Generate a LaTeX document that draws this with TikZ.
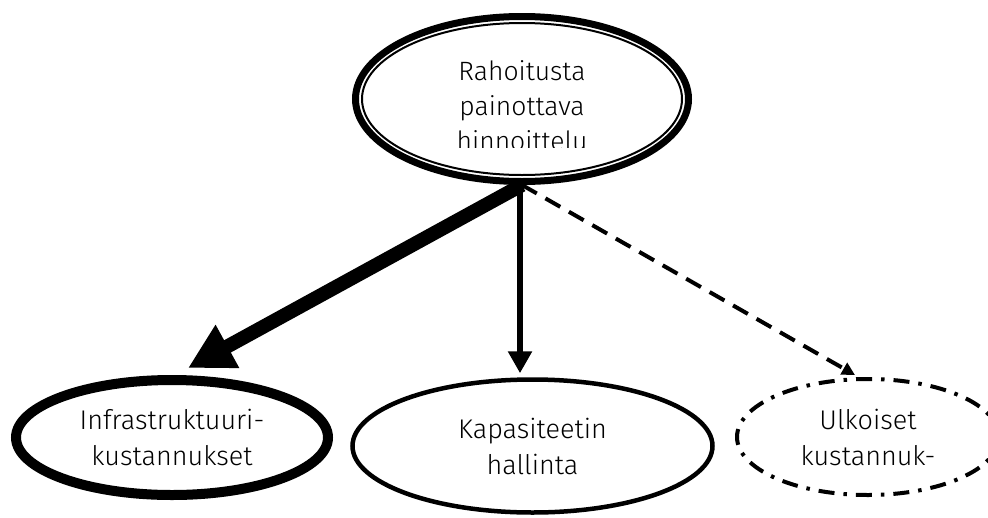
\documentclass[tikz,border=0pt]{standalone}
\usepackage{fontspec}
\setmainfont{Fira Sans}[UprightFont=* Light]
\usetikzlibrary{shapes.geometric,arrows.meta,calc}

\begin{document}
\begin{tikzpicture}[x=1pt,y=-1pt,
  oval/.style={ellipse, draw, fill=white, inner sep=0pt, align=center,
    font=\fontsize{27}{36}\selectfont},
  heavyarrow/.style={line width=14pt, -{Triangle[length=45pt,width=46pt]}},
  mainarrow/.style={line width=6pt, -{Triangle[length=22pt,width=23pt]}},
  weakarrow/.style={line width=4pt, dash pattern=on 17pt off 10pt,
    -{Triangle[length=13pt,width=13pt]}},
  dashdot/.style={line width=4pt, dash pattern=on 16pt off 9pt on 3.5pt off 9pt}
]
\useasboundingbox (0,0) rectangle (988,517);

% Pricing approach: thick outer rim with a thin inner rim
\node[oval, line width=7pt, minimum width=333pt, minimum height=165pt] (top) at (522,99) {};
\node[ellipse, draw, line width=2pt, inner sep=0pt,
      minimum width=320pt, minimum height=152pt] (topin) at (top.center) {};
\begin{scope}
  \clip (300,0) rectangle (750,147);
  \node[align=center, font=\fontsize{26.5}{35}\selectfont, inner sep=0pt]
    (toptext) at (522,106) {Rahoitusta\\painottava\\hinnoittelu};
\end{scope}

% Cost components
\node[oval, line width=10pt, minimum width=312pt, minimum height=115pt]
  (infra) at (172,437.5) {Infrastruktuuri-\\kustannukset};
\node[oval, line width=4.5pt, minimum width=360pt, minimum height=133pt]
  (kap) at (532.5,446) {Kapasiteetin\\hallinta};
\node[oval, dashdot, minimum width=262pt, minimum height=116pt]
  (ulk) at (868,437) {Ulkoiset\\kustannuk-};

% Weighted links
\draw[heavyarrow] (top.south) -- ([xshift=16pt,yshift=7pt]infra.north);
\draw[mainarrow] ([xshift=-2pt]top.south) -- ([xshift=-2pt,yshift=4pt]top.south |- kap.north);
\draw[weakarrow] (top.south) -- ([xshift=-13pt,yshift=2pt]ulk.north);
\end{tikzpicture}
\end{document}
